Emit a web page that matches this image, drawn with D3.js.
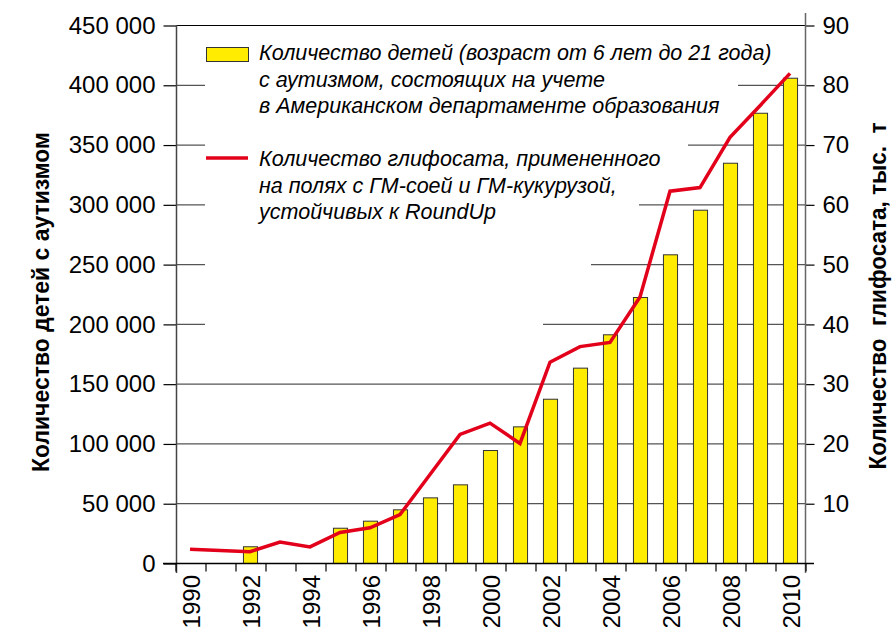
<!DOCTYPE html>
<html lang="ru">
<head>
  <meta charset="UTF-8">
  <title>Аутизм и глифосат</title>
  <script src="https://d3js.org/d3.v7.min.js"></script>
  <style>
    body { margin: 0; background: #fff; }
    svg { display: block; }
    .tick text { font-family: "Liberation Sans", Arial, sans-serif; font-size: 24px; fill: #000; }
    .legend text { font-family: "Liberation Sans", Arial, sans-serif; font-style: italic; font-size: 21.5px; fill: #000; }
    .title { font-family: "Liberation Sans", Arial, sans-serif; font-weight: bold; font-size: 23px; fill: #000; white-space: pre; }
  </style>
</head>
<body>
<svg></svg>
<script>
  // data
  const years = [1990, 1991, 1992, 1993, 1994, 1995, 1996, 1997, 1998, 1999, 2000,
                 2001, 2002, 2003, 2004, 2005, 2006, 2007, 2008, 2009, 2010];
  const autismCounts = [null, null, 14000, null, null, 29500, 35400, 44900, 54900, 65800, 94500,
                        114300, 137400, 163400, 191300, 222500, 258200, 295500, 334800, 376600, 405900];
  const glyphosate = [2.3, null, 1.9, 3.5, 2.7, 5.1, 5.9, 8.1, 14.8, 21.5, 23.4,
                      20.0, 33.6, 36.2, 36.9, 44.5, 62.2, 62.8, 71.2, 76.5, 81.9];
  const yearLabels = [1990, 1992, 1994, 1996, 1998, 2000, 2002, 2004, 2006, 2008, 2010];
  const leftTicks = [0, 50000, 100000, 150000, 200000, 250000, 300000, 350000, 400000, 450000];
  const rightTicks = [10, 20, 30, 40, 50, 60, 70, 80, 90];
  const legendBars = ["Количество детей (возраст от 6 лет до 21 года)",
                      "с аутизмом, состоящих на учете",
                      "в Американском департаменте образования"];
  const legendLine = ["Количество глифосата, примененного",
                      "на полях с ГМ-соей и ГМ-кукурузой,",
                      "устойчивых к RoundUp"];
  const leftTitle = "Количество детей с аутизмом";
  const rightTitle = "Количество  глифосата, тыс.  т";

  const width = 893, height = 627;
  const plot = {left: 176, right: 805, top: 25, bottom: 563};
  const yellow = "#ffec00", red = "#e2001a";

  const svg = d3.select("svg").attr("width", width).attr("height", height);

  const x = d3.scaleBand().domain(years).range([plot.left - 1, plot.right])
    .paddingInner(0.53).paddingOuter(0.265);
  const xEdge = d3.scaleLinear().domain([1990, 2011]).range([plot.left - 1, plot.right]);
  const yL = d3.scaleLinear().domain([0, 450000]).range([plot.bottom, plot.top]);
  const yR = d3.scaleLinear().domain([0, 90]).range([plot.bottom, plot.top]);

  // gridlines
  svg.append("g").selectAll("line")
    .data(leftTicks.filter(d => d > 0))
    .join("line")
    .attr("x1", plot.left).attr("x2", plot.right)
    .attr("y1", d => yL(d) + 0.5).attr("y2", d => yL(d) + 0.5)
    .attr("stroke", d => d === 450000 ? "#000" : "#555")
    .attr("stroke-width", 1.2);

  // white area behind the legend (staircase like the original)
  svg.append("path")
    .attr("d", "M205,32 H738 V115 H688 V175 H639 V235 H591 V295 H543 V350 H205 Z")
    .attr("fill", "#fff");

  // bars
  const barData = years.map((y, i) => ({year: y, v: autismCounts[i]})).filter(d => d.v != null);
  svg.append("g").selectAll("rect")
    .data(barData)
    .join("rect")
    .attr("x", d => x(d.year) + 0.5)
    .attr("y", d => yL(d.v) + 0.5)
    .attr("width", x.bandwidth())
    .attr("height", d => plot.bottom - yL(d.v))
    .attr("fill", yellow)
    .attr("stroke", "#333")
    .attr("stroke-width", 1);

  // left axis
  const fmt = d => d3.format(",")(d).replace(/,/g, " ");
  const gL = svg.append("g").attr("transform", `translate(${plot.left + 0.5},0.5)`)
    .call(d3.axisLeft(yL).tickValues(leftTicks).tickSize(13).tickPadding(8).tickFormat(fmt));
  gL.select(".domain").remove();
  gL.selectAll(".tick line").attr("stroke", "#000").attr("stroke-width", 1.2);
  svg.append("line").attr("x1", plot.left + 0.5).attr("x2", plot.left + 0.5)
    .attr("y1", plot.top).attr("y2", plot.bottom + 10).attr("stroke", "#444").attr("stroke-width", 1.5);

  // right axis
  const gR = svg.append("g").attr("transform", `translate(${plot.right + 0.5},0.5)`)
    .call(d3.axisRight(yR).tickValues(rightTicks).tickSize(9).tickPadding(8));
  gR.select(".domain").remove();
  gR.selectAll(".tick line").attr("stroke", "#000").attr("stroke-width", 1.2);
  svg.append("line").attr("x1", plot.right + 0.5).attr("x2", plot.right + 0.5)
    .attr("y1", 13).attr("y2", plot.bottom + 10).attr("stroke", "#666").attr("stroke-width", 1.5);

  // bottom axis: ticks at year boundaries
  const gB = svg.append("g").attr("transform", `translate(0.5,${plot.bottom + 0.5})`)
    .call(d3.axisBottom(xEdge).tickValues(d3.range(1990, 2012)).tickSize(8).tickFormat(""));
  gB.select(".domain").remove();
  gB.selectAll(".tick line").attr("stroke", "#000").attr("stroke-width", 1.2);
  svg.append("line").attr("x1", plot.left - 13).attr("x2", plot.right + 9)
    .attr("y1", plot.bottom + 0.5).attr("y2", plot.bottom + 0.5).attr("stroke", "#000").attr("stroke-width", 1.4);

  // year labels, rotated
  svg.append("g").attr("class", "tick").selectAll("text")
    .data(yearLabels)
    .join("text")
    .attr("transform", d => `translate(${x(d) + x.bandwidth() / 2 + 10},${plot.bottom + 12}) rotate(-90)`)
    .attr("text-anchor", "end")
    .text(d => d);

  // glyphosate line
  const lineData = years.map((y, i) => ({year: y, v: glyphosate[i]})).filter(d => d.v != null);
  svg.append("path")
    .datum(lineData)
    .attr("fill", "none")
    .attr("stroke", red)
    .attr("stroke-width", 3.5)
    .attr("stroke-linejoin", "miter")
    .attr("d", d3.line().x(d => x(d.year) + x.bandwidth() / 2).y(d => yR(d.v)));

  // legend
  const lg = svg.append("g").attr("class", "legend");
  lg.append("rect").attr("x", 206.5).attr("y", 47.5).attr("width", 42).attr("height", 14)
    .attr("fill", yellow).attr("stroke", "#333");
  lg.append("line").attr("x1", 206).attr("x2", 248).attr("y1", 158).attr("y2", 158)
    .attr("stroke", red).attr("stroke-width", 3.5);
  lg.selectAll("text.a").data(legendBars).join("text").attr("class", "a")
    .attr("x", 259).attr("y", (d, i) => 60 + i * 26.5).text(d => d);
  lg.selectAll("text.b").data(legendLine).join("text").attr("class", "b")
    .attr("x", 259).attr("y", (d, i) => 166 + i * 26.5).text(d => d);

  // axis titles
  svg.append("text").attr("class", "title")
    .attr("transform", "translate(49,302) rotate(-90)")
    .attr("text-anchor", "middle")
    .attr("textLength", 340).attr("lengthAdjust", "spacingAndGlyphs")
    .text(leftTitle);
  svg.append("text").attr("class", "title")
    .attr("transform", "translate(886,296) rotate(-90)")
    .attr("text-anchor", "middle")
    .attr("textLength", 347).attr("lengthAdjust", "spacingAndGlyphs")
    .text(rightTitle);
</script>
</body>
</html>
